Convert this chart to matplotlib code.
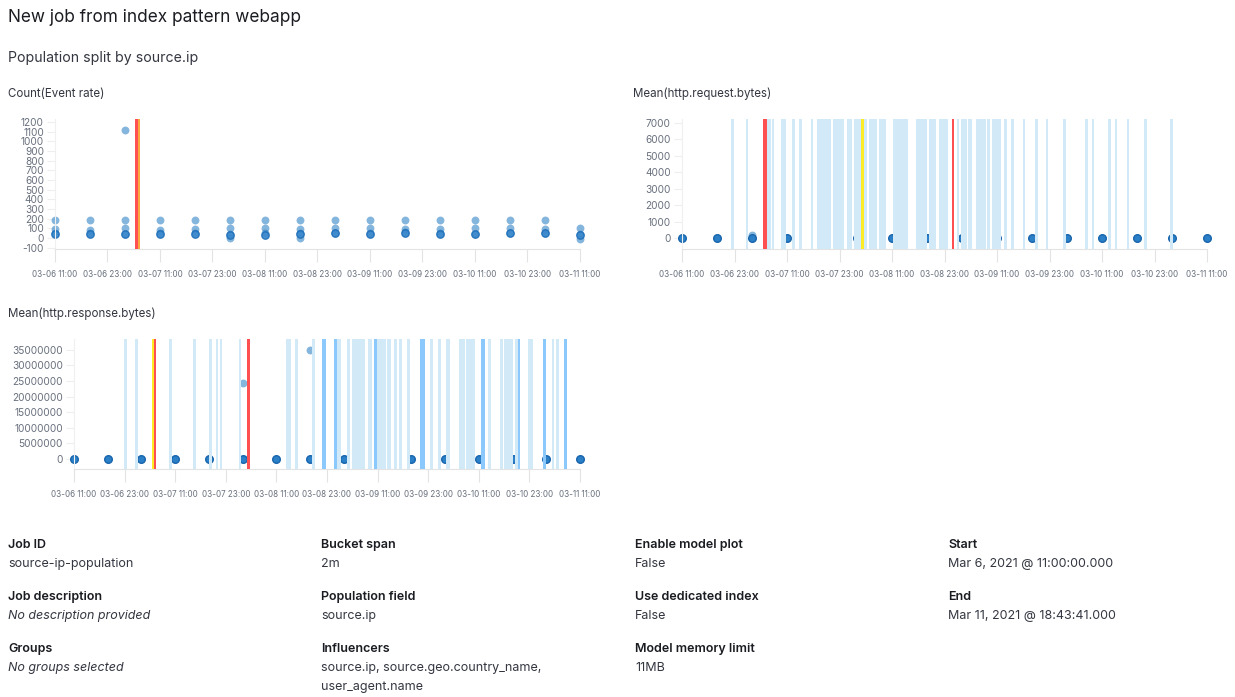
"""
Population job summary: three anomaly charts and the job details.
"""

import matplotlib
matplotlib.use('Agg')
import matplotlib.pyplot as plt
import matplotlib.dates as mdates
import pandas as pd

plt.rcParams['font.family'] = ['Inter', 'DejaVu Sans']
plt.rcParams['axes.unicode_minus'] = False

W, H = 1235, 697
START = pd.Timestamp('2021-03-06 11:00')
tick_times = pd.date_range(START, periods=11, freq='12h')
bucket_times = pd.date_range(START, periods=16, freq='8h')

# Count(Event rate): light population points per 8h bucket, and a dark typical point
count_points = [
    [190, 95, 50], [190, 85, 50], [1120, 190, 100, 45], [190, 85, 50],
    [190, 95, 50], [190, 100, 45, 0], [190, 100, 50], [190, 90, 50, 0],
    [190, 100, 50], [190, 110, 50], [190, 90, 60], [190, 90, 50],
    [190, 110, 45], [190, 110, 50], [190, 90, 50], [110, 40, -10],
]
count_typical = [40, 45, 45, 45, 45, 35, 35, 40, 50, 40, 50, 45, 45, 50, 50, 30]
count_anomalies = [(18.3, 19.4, 'major'), (18.3, 19.05, 'critical')]

# Mean(http.request.bytes)
request_points = [[0], [0], [160, 0], [0], [0], [0], [0], [0],
                  [0], [0], [0], [0], [0], [0], [0], [0]]
request_anomalies = [
    (11.2, 11.9), (14.6, 15.1), (19.4, 20.3), (20.6, 21.0), (22.6, 23.8),
    (25.1, 25.8), (26.7, 27.4), (29.5, 29.9), (30.9, 34.1), (34.5, 37.0),
    (37.7, 38.9), (39.3, 40.9), (41.6, 42.3), (42.7, 44.6), (45.0, 46.6),
    (48.2, 51.7), (53.5, 56.0), (56.5, 58.1), (58.7, 60.8), (62.9, 63.3),
    (63.8, 65.1), (65.4, 66.3), (67.2, 69.5), (69.7, 70.4), (70.9, 72.9),
    (73.6, 74.3), (75.2, 75.9), (77.9, 78.4), (80.7, 81.4), (83.2, 83.7),
    (87.1, 87.8), (92.1, 92.8), (93.7, 94.2), (97.4, 98.1), (99.0, 99.4),
    (101.7, 102.2), (105.6, 106.3), (111.5, 112.2),
]
request_severe = [(18.5, 19.4, 'critical'), (40.9, 41.6, 'minor'), (61.7, 62.2, 'critical')]

# Mean(http.response.bytes)
response_points = [[0], [0], [0], [0], [0], [24400000, 0], [0], [35000000, 0],
                   [0], [0], [0], [0], [0], [0], [0], [0]]
response_anomalies = [
    (11.9, 12.6), (14.5, 15.2), (22.5, 23.2), (28.2, 28.9), (32.0, 32.7),
    (33.7, 34.2), (34.6, 35.1), (39.1, 39.6), (50.3, 51.5), (52.4, 53.1),
    (56.5, 57.2), (62.4, 63.3), (64.8, 65.5), (65.9, 69.0), (69.7, 70.7),
    (71.9, 74.0), (74.2, 75.2), (75.9, 76.6), (77.1, 77.8), (79.0, 79.7),
    (84.4, 85.2), (86.3, 87.1), (88.2, 89.2), (91.3, 92.7), (93.0, 95.1),
    (98.2, 98.9), (101.0, 101.8), (102.0, 102.7), (102.7, 104.1), (104.6, 105.4),
    (107.7, 108.9), (113.4, 113.9), (114.3, 115.0),
]
response_warning = [(58.8, 59.8), (61.7, 62.4), (71.2, 71.9), (82.1, 83.3),
                    (96.5, 97.5), (105.4, 105.8), (111.2, 111.9), (116.2, 116.9),
                    (40.7, 40.9)]
response_severe = [(18.5, 19.5, 'minor'), (19.0, 19.5, 'critical'), (41.0, 41.7, 'critical')]

severity_colors = {'low': '#d2e9f7', 'warning': '#8bc8fb', 'minor': '#fdec25',
                   'major': '#fba740', 'critical': '#fe5050'}

detail_labels = [
    ['Job ID', 'Job description', 'Groups'],
    ['Bucket span', 'Population field', 'Influencers'],
    ['Enable model plot', 'Use dedicated index', 'Model memory limit'],
    ['Start', 'End'],
]
detail_values = [
    ['source-ip-population', 'No description provided', 'No groups selected'],
    ['2m', 'source.ip', 'source.ip, source.geo.country_name,\nuser_agent.name'],
    ['False', 'False', '11MB'],
    ['Mar 6, 2021 @ 11:00:00.000', 'Mar 11, 2021 @ 18:43:41.000'],
]
italic_values = {'No description provided', 'No groups selected'}


def at(hours):
    return START + pd.to_timedelta(hours, unit='h')


def make_axes(fig, left, top, right, bottom):
    return fig.add_axes([left / W, 1 - bottom / H, (right - left) / W, (bottom - top) / H])


def style_axis(ax, ylim, yticks):
    ax.set_xlim(tick_times[0], tick_times[-1])
    ax.set_ylim(*ylim)
    ax.set_xticks(tick_times)
    ax.xaxis.set_major_formatter(mdates.DateFormatter('%m-%d %H:%M'))
    ax.set_yticks(yticks)
    ax.ticklabel_format(axis='y', style='plain', useOffset=False)
    for side in ['top', 'right']:
        ax.spines[side].set_visible(False)
    ax.spines['bottom'].set_color('#e3e3e3')
    ax.spines['left'].set_color('#f0f0f0')
    ax.tick_params(axis='x', length=9, color='#e3e3e3', labelsize=5.8,
                   labelcolor='#69707d', pad=6)
    ax.tick_params(axis='y', length=6, color='#eeeeee', labelsize=7.3,
                   labelcolor='#69707d', pad=2)
    ax.patch.set_alpha(0.0)


def draw_points(ax, points, typical=None):
    for t, vals in zip(bucket_times, points):
        ax.scatter([t] * len(vals), vals, s=32, color='#1f78c1', alpha=0.55,
                   linewidths=0, zorder=2, clip_on=False)
        if typical is None:
            ax.scatter([t], [vals[-1]], s=30, color='#2a7fc6', edgecolors='#1a66ad',
                       linewidths=1.0, zorder=2, clip_on=False)
    if typical is not None:
        ax.scatter(bucket_times, typical, s=28, color='#3a88cc', edgecolors='#1f6fb8',
                   linewidths=1.0, alpha=0.9, zorder=2, clip_on=False)


def draw_bands(ax, spans, color, z=3):
    for a, b in spans:
        ax.axvspan(at(a), at(b), color=color, linewidth=0, zorder=z)


fig = plt.figure(figsize=(W / 100, H / 100), dpi=100)


def ftext(x, y, s, **kw):
    fig.text(x / W, 1 - y / H, s, va='center', ha='left', **kw)


ftext(8, 17, 'New job from index pattern webapp', fontsize=12.4, color='#1a1c21')
ftext(8, 58, 'Population split by source.ip', fontsize=10.2, color='#343741')
ftext(8, 94, 'Count(Event rate)', fontsize=8.3, color='#343741')
ftext(633, 94, 'Mean(http.request.bytes)', fontsize=8.3, color='#343741')
ftext(8, 314, 'Mean(http.response.bytes)', fontsize=8.3, color='#343741')

# chart 1
ax1 = make_axes(fig, 55, 119, 580, 249)
style_axis(ax1, (-112, 1232), list(range(-100, 1201, 100)))
draw_points(ax1, count_points, count_typical)
for a, b, sev in count_anomalies:
    ax1.axvspan(at(a), at(b), color=severity_colors[sev], linewidth=0, zorder=3)

# chart 2
ax2 = make_axes(fig, 682, 119, 1207, 249)
style_axis(ax2, (-670, 7240), list(range(0, 7001, 1000)))
draw_points(ax2, request_points)
draw_bands(ax2, request_anomalies, severity_colors['low'])
for a, b, sev in request_severe:
    ax2.axvspan(at(a), at(b), color=severity_colors[sev], linewidth=0, zorder=4)

# chart 3
ax3 = make_axes(fig, 74, 339, 580, 469)
style_axis(ax3, (-3200000, 38500000), list(range(0, 35000001, 5000000)))
draw_points(ax3, response_points)
draw_bands(ax3, response_anomalies, severity_colors['low'])
draw_bands(ax3, response_warning, severity_colors['warning'], z=3.5)
for a, b, sev in response_severe:
    ax3.axvspan(at(a), at(b), color=severity_colors[sev], linewidth=0, zorder=4)

# job details
col_x = [8, 321, 635, 948]
label_y = [545, 597, 649]
for cx, labels, values in zip(col_x, detail_labels, detail_values):
    for ly, lab, val in zip(label_y, labels, values):
        ftext(cx, ly, lab, fontsize=9.0, fontweight='semibold', color='#1a1c21')
        style = 'italic' if val in italic_values else 'normal'
        for k, line in enumerate(val.split('\n')):
            ftext(cx, ly + 19 + 19 * k, line, fontsize=9.0, color='#343741', style=style)

fig.savefig('out.png', dpi=100, facecolor='white')
